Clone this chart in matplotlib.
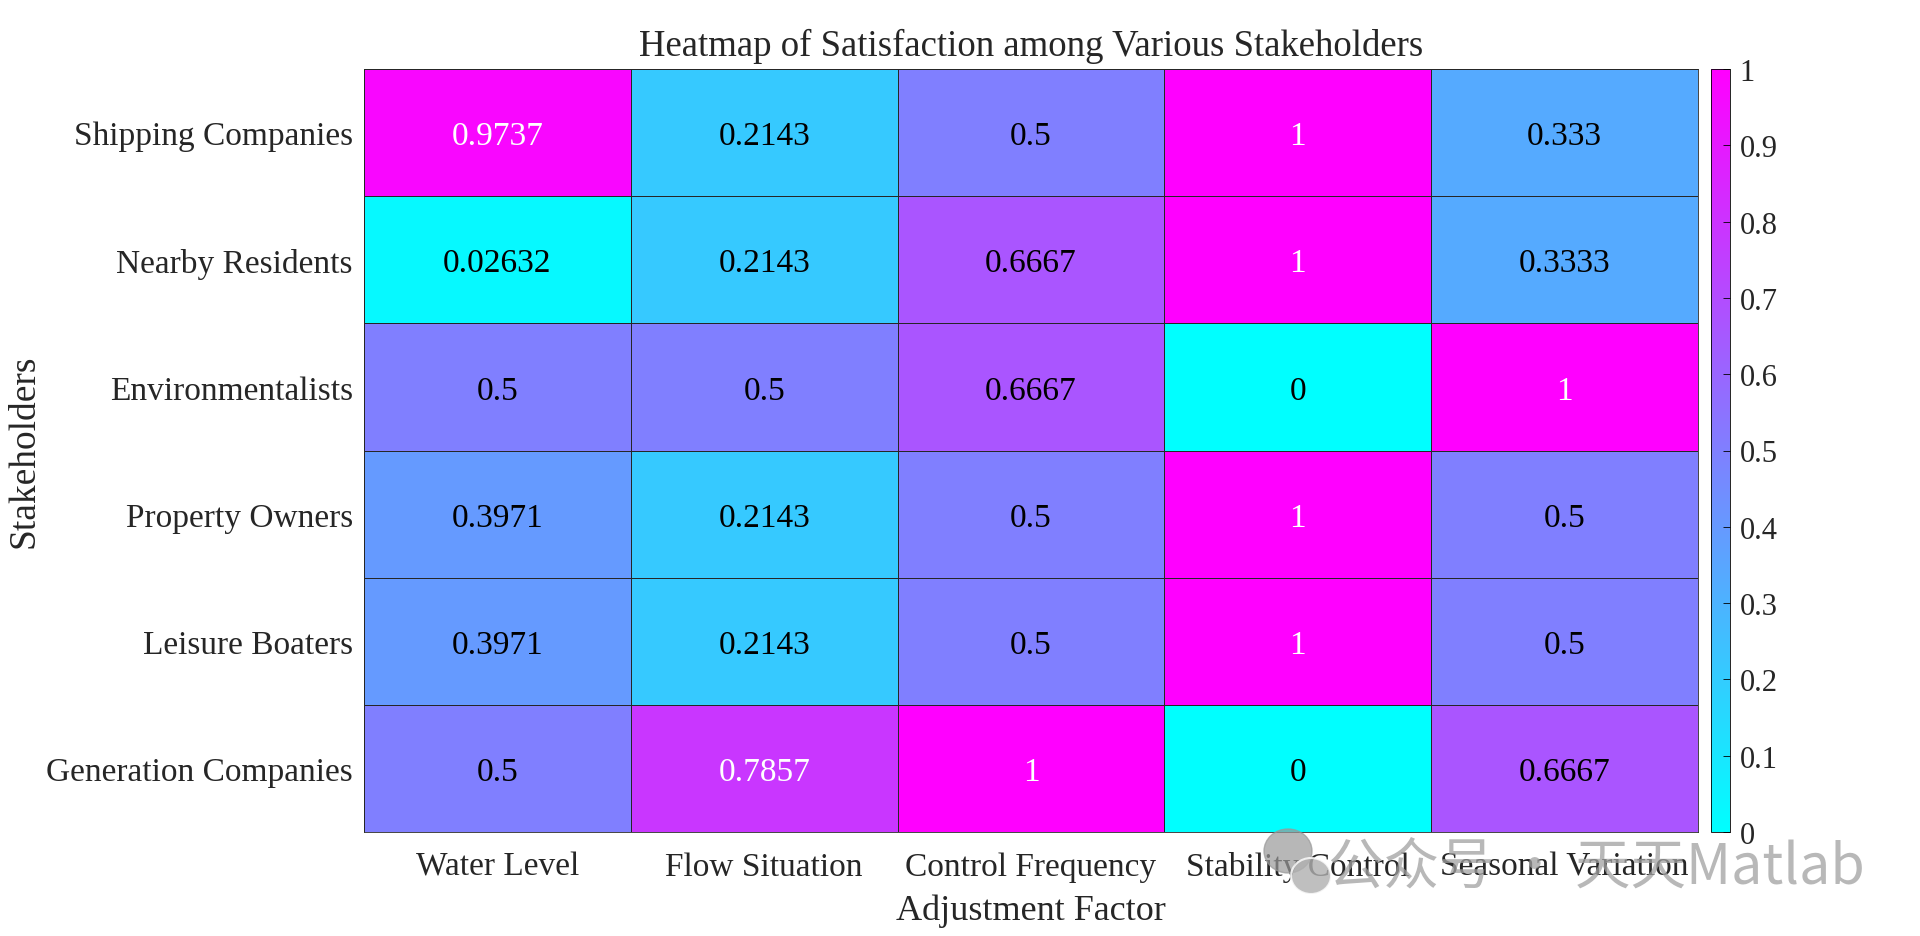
import matplotlib
matplotlib.use("Agg")
import matplotlib.pyplot as plt
from matplotlib.patches import Ellipse
import numpy as np

stakeholders = ["Shipping Companies", "Nearby Residents", "Environmentalists",
                "Property Owners", "Leisure Boaters", "Generation Companies"]
factors = ["Water Level", "Flow Situation", "Control Frequency",
           "Stability Control", "Seasonal Variation"]

water_level = [0.9737, 0.02632, 0.5, 0.3971, 0.3971, 0.5]
flow_situation = [0.2143, 0.2143, 0.5, 0.2143, 0.2143, 0.7857]
control_frequency = [0.5, 0.6667, 0.6667, 0.5, 0.5, 1]
stability_control = [1, 1, 0, 1, 1, 0]
seasonal_variation = [0.333, 0.3333, 1, 0.5, 0.5, 0.6667]


def main():
    plt.rcParams['font.family'] = ['Liberation Serif', 'DejaVu Serif']

    data = np.column_stack([water_level, flow_situation, control_frequency,
                            stability_control, seasonal_variation])
    n_rows, n_cols = data.shape

    fig = plt.figure(figsize=(19.2, 9.37), dpi=100)
    W, H = 1920, 937
    ax = fig.add_axes([364 / W, 1 - 833 / H, (1698 - 364) / W, (833 - 70) / H])
    cax = fig.add_axes([1711 / W, 1 - 833 / H, (1730 - 1711) / W, (833 - 70) / H])

    mesh = ax.pcolormesh(np.arange(n_cols + 1), np.arange(n_rows + 1), data,
                         cmap='cool', vmin=0, vmax=1,
                         edgecolors='#262626', linewidth=0.5)
    ax.set_xlim(0, n_cols)
    ax.set_ylim(n_rows, 0)

    for i in range(n_rows):
        for j in range(n_cols):
            v = data[i, j]
            color = 'white' if v > 0.7 else 'black'
            ax.text(j + 0.5, i + 0.5, f"{v:.4g}", ha='center',
                    va='center_baseline', fontsize=24, color=color)

    ax.set_xticks(np.arange(n_cols) + 0.5)
    ax.set_xticklabels(factors, fontsize=24, color='#262626')
    ax.set_yticks(np.arange(n_rows) + 0.5)
    ax.set_yticklabels(stakeholders, fontsize=24, color='#262626')
    ax.tick_params(axis='y', length=0, pad=8)
    ax.tick_params(axis='x', length=0, pad=14)
    for s in ax.spines.values():
        s.set_color('#262626')
        s.set_linewidth(0.6)

    ax.set_xlabel("Adjustment Factor", fontsize=26, color='#262626', va='center')
    ax.xaxis.set_label_coords(0.5, (833 - 911) / 763)
    ax.set_ylabel("Stakeholders", fontsize=27, color='#262626', va='center')
    ax.yaxis.set_label_coords((24 - 364) / 1334, 0.5)
    ax.set_title("Heatmap of Satisfaction among Various Stakeholders",
                 fontsize=26.5, color='#262626', va='center', pad=0,
                 y=1 + (70 - 46) / 763)

    cb = fig.colorbar(mesh, cax=cax, ticks=np.linspace(0, 1, 11))
    cb.ax.set_yticklabels(["0", "0.1", "0.2", "0.3", "0.4", "0.5",
                           "0.6", "0.7", "0.8", "0.9", "1"])
    cb.ax.tick_params(direction='in', length=5, width=0.6, labelsize=22,
                      labelcolor='#262626', pad=7)
    cb.outline.set_linewidth(0.6)

    # watermark
    fig.text(1328 / W, 1 - 868 / H, "公众号 · 天天Matlab", fontsize=40,
             color='#a0a0a0', alpha=0.75, ha='left', va='center',
             family=['Noto Sans CJK SC', 'DejaVu Sans'])
    fig.patches.append(Ellipse((1288 / W, 1 - 852 / H), 48 / W, 44 / H,
                               transform=fig.transFigure, color='#999999',
                               alpha=0.7))
    fig.patches.append(Ellipse((1311 / W, 1 - 877 / H), 40 / W, 36 / H,
                               transform=fig.transFigure, color='#b0b0b0',
                               alpha=0.8, ec='white', lw=1.5))

    fig.savefig("out.png", dpi=100)


if __name__ == "__main__":
    main()
